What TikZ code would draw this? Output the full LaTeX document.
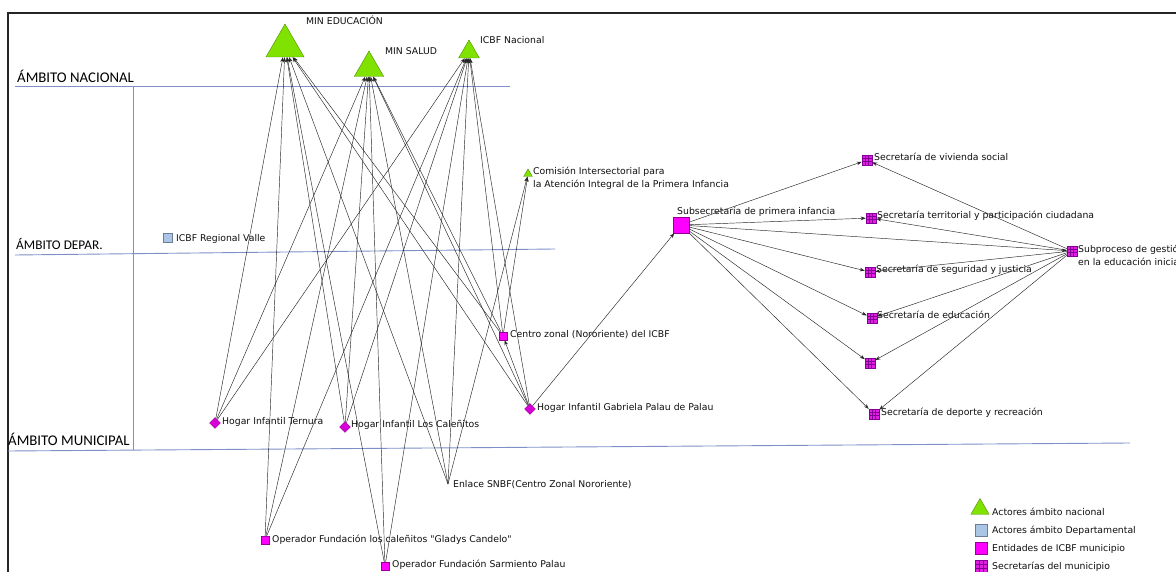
\documentclass[tikz,border=0pt]{standalone}
\usepackage{fontspec}
\setmainfont{DejaVu Sans}[Ligatures=TeXOff]
\newfontfamily\ambfont{Carlito}
\usetikzlibrary{shapes.geometric,arrows.meta,calc}
\definecolor{lime}{RGB}{128,226,0}
\definecolor{limedark}{RGB}{80,140,0}
\definecolor{mag}{RGB}{255,0,255}
\definecolor{magdark}{RGB}{150,0,150}
\definecolor{hogmag}{RGB}{215,0,215}
\definecolor{secmag}{RGB}{225,30,225}
\definecolor{secgrid}{RGB}{130,0,150}
\definecolor{ambline}{RGB}{125,145,200}
\definecolor{deptfill}{RGB}{170,198,228}
\definecolor{deptdraw}{RGB}{110,125,150}
\definecolor{txt}{RGB}{15,15,15}
\begin{document}
\begin{tikzpicture}[x=1pt,y=-1pt,
  lbl/.style={font=\fontsize{9.3}{13}\selectfont, text=txt, inner sep=0pt, anchor=base west},
  amb/.style={font=\ambfont\fontsize{14.8}{16}\selectfont, text=black, inner sep=0pt, anchor=base west},
  natl/.style={regular polygon, regular polygon sides=3, fill=lime, draw=limedark, line width=0.4pt, inner sep=0pt},
  icbf/.style={rectangle, fill=mag, draw=magdark, line width=0.4pt, inner sep=0pt},
  hogar/.style={diamond, fill=hogmag, draw=magdark, line width=0.4pt, inner sep=0pt, minimum size=11pt},
  secr/.style={rectangle, fill=secmag, draw=secgrid, line width=0.5pt, inner sep=0pt, minimum size=10pt,
    path picture={
      \foreach \f in {0.35,0.65}{
        \draw[secgrid,line width=0.5pt] ($(path picture bounding box.north west)!\f!(path picture bounding box.north east)$) -- ($(path picture bounding box.south west)!\f!(path picture bounding box.south east)$);
        \draw[secgrid,line width=0.5pt] ($(path picture bounding box.north west)!\f!(path picture bounding box.south west)$) -- ($(path picture bounding box.north east)!\f!(path picture bounding box.south east)$);
      }}},
  dept/.style={rectangle, fill=deptfill, draw=deptdraw, line width=0.5pt, inner sep=0pt, minimum size=9pt},
  edge/.style={draw=black!85, line width=0.45pt, -{Stealth[length=5pt,width=3.6pt]}},
  ambito/.style={draw=ambline, line width=0.9pt}
]
\clip (0,0) rectangle (1176,572);
\fill[white] (0,0) rectangle (1176,572);
% frame
\draw[line width=2pt, black!85] (8,572) -- (8,13) -- (1176,13);
% ambit lines
\draw[ambito] (15,86) -- (510,86);
\draw[ambito] (15,255) -- (555,249);
\draw[ambito] (8,451) -- (1130,443);
\draw[ambito] (133,86) -- (133,450);
\node[amb] (aN) at (17,83) {ÁMBITO NACIONAL};
\node[amb, font=\ambfont\fontsize{13.3}{15}\selectfont] (aD) at (16,250) {ÁMBITO DEPAR.};
\node[amb] (aM) at (8,445) {ÁMBITO MUNICIPAL};

% national actors
\node[natl, minimum size=44pt] (E) at (285,46) {};
\node[natl, minimum size=34pt] (S) at (369,68) {};
\node[natl, minimum size=24pt] (N) at (469,52) {};
\node[natl, minimum size=10pt] (K) at (528,174) {};
\node[lbl] (tE) at (306,24.5) {MIN EDUCACIÓN};
\node[lbl] (tS) at (385,54.5) {MIN SALUD};
\node[lbl] (tN) at (480,43.5) {ICBF Nacional};
\node[lbl, anchor=north west, align=left] (tK) at (533,166.4) {Comisión Intersectorial para\\la Atención Integral de la Primera Infancia};

% departmental
\node[dept] (R) at (168,238) {};
\node[lbl] (tR) at (176,241.5) {ICBF Regional Valle};

% municipal ICBF
\node[icbf, minimum size=8pt] (Z) at (503,336) {};
\node[lbl] (tZ) at (510,337.5) {Centro zonal (Nororiente) del ICBF};
\node[hogar] (T) at (215,423) {};
\node[lbl] (tT) at (222,424.5) {Hogar Infantil Ternura};
\node[hogar] (C) at (345,427) {};
\node[lbl] (tC) at (351,427.5) {Hogar Infantil Los Caleñitos};
\node[hogar] (G) at (530,409) {};
\node[lbl] (tG) at (537,410.5) {Hogar Infantil Gabriela Palau de Palau};
\coordinate (L) at (448,484);
\node[lbl] (tL) at (453,487.5) {Enlace SNBF(Centro Zonal Nororiente)};
\node[icbf, minimum size=8pt] (O1) at (265,540) {};
\node[lbl] (tO1) at (272,542.5) {Operador Fundación los caleñitos "Gladys Candelo"};
\node[icbf, minimum size=8pt] (O2) at (385,566) {};
\node[lbl] (tO2) at (392,567.5) {Operador Fundación Sarmiento Palau};
\node[icbf, minimum size=16pt] (Sub) at (681,225) {};
\node[lbl] (tSub) at (677,214.5) {Subsecretaría de primera infancia};

% secretarias
\node[secr] (viv) at (867,160) {};
\node[lbl] (tviv) at (874,160.5) {Secretaría de vivienda social};
\node[secr] (ter) at (871,218) {};
\node[lbl] (tter) at (877,218.5) {Secretaría territorial y participación ciudadana};
\node[secr] (seg) at (870,272) {};
\node[lbl] (tseg) at (876,272.5) {Secretaría de seguridad y justicia};
\node[secr] (edu) at (872,318) {};
\node[lbl] (tedu) at (877,318.5) {Secretaría de educación};
\node[secr] (unl) at (870,363) {};
\node[secr] (dep) at (874,414) {};
\node[lbl] (tdep) at (881,415.5) {Secretaría de deporte y recreación};
\node[secr] (Sp) at (1072,251) {};
\node[lbl, anchor=north west, align=left] (tSp) at (1078,244.4) {Subproceso de gestión\\en la educación inicial};

% edges
\foreach \s in {T,C,G,Z,L,O1,O2}{
  \foreach \t in {E,S,N}{
    \draw[edge] (\s) -- (\t);
  }
}
\draw[edge] (Z) -- (K);
\draw[edge] (L) -- (K);
\draw[edge] (G) -- (Z);
\draw[edge] (G) -- (Sub);
\foreach \t in {viv,ter,seg,edu,unl,dep}{
  \draw[edge] (Sub) -- (\t);
  \draw[edge] (Sp) -- (\t);
}
\draw[edge] (Sub) -- (Sp);

% legend
\node[natl, minimum size=21pt] (lg1) at (980,509) {};
\node[lbl] (tlg1) at (992,515.5) {Actores ámbito nacional};
\node[dept, minimum size=12pt] (lg2) at (981,530) {};
\node[lbl] (tlg2) at (992,533.5) {Actores ámbito Departamental};
\node[icbf, minimum size=12pt] (lg3) at (981,548) {};
\node[lbl] (tlg3) at (992,551.5) {Entidades de ICBF municipio};
\node[secr, minimum size=12pt] (lg4) at (981,566) {};
\node[lbl] (tlg4) at (992,569) {Secretarías del municipio};
\end{tikzpicture}
\end{document}
